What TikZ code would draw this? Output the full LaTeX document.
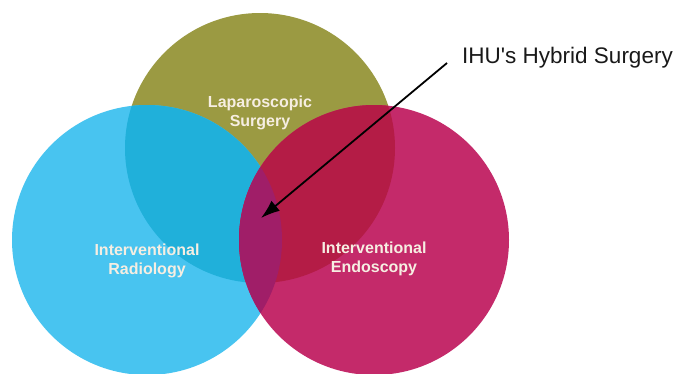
\documentclass[tikz,border=0pt]{standalone}
\usepackage{fontspec}
\setmainfont{Liberation Sans}
\usepackage{xcolor}
\usetikzlibrary{positioning,calc,arrows.meta}

\definecolor{lapcol}{HTML}{9B9A42}
\definecolor{radcol}{HTML}{48C4F0}
\definecolor{endcol}{HTML}{C42A6A}
\definecolor{radlapcol}{HTML}{20B0DA}
\definecolor{endlapcol}{HTML}{B41C46}
\definecolor{radendcol}{HTML}{A01E68}
\definecolor{labelcol}{HTML}{F6EEE2}

\begin{document}
\begin{tikzpicture}[
  x=1pt, y=-1pt,
  field/.style={align=center, text=labelcol, font=\bfseries\fontsize{16}{19}\selectfont},
  callout/.style={font=\fontsize{22.5}{26}\selectfont, text=black!90, inner sep=0pt},
]
\useasboundingbox (0,0) rectangle (680,373);

% ---------- Circle centres ----------
\coordinate (lap) at (260,148);
\coordinate (rad) at (147,240);
\coordinate (endo) at (374,240);
\def\rr{135pt}

% ---------- Circles and overlaps ----------
\fill[lapcol] (lap) circle[radius=\rr];
\fill[radcol] (rad) circle[radius=\rr];
\begin{scope}
  \clip (rad) circle[radius=\rr];
  \fill[radlapcol] (lap) circle[radius=\rr];
\end{scope}
\fill[endcol] (endo) circle[radius=\rr];
\begin{scope}
  \clip (endo) circle[radius=\rr];
  \fill[endlapcol] (lap) circle[radius=\rr];
  \fill[radendcol] (rad) circle[radius=\rr];
\end{scope}

% ---------- Labels ----------
\node[field] (laptext) at (260,113) {Laparoscopic\\Surgery};
\node[field] (radtext) at (147,261) {Interventional\\Radiology};
\node[field] (endtext) at (374,259) {Interventional\\Endoscopy};

\node[callout, anchor=west] (hybrid) at (462,58) {IHU\textquotesingle s Hybrid Surgery};
\coordinate (core) at (261,218);

% ---------- Arrow ----------
\draw[-{Latex[length=19pt,width=13pt]}, line width=1.8pt] ([xshift=-15pt,yshift=-5pt]hybrid.west) -- (core);

\end{tikzpicture}
\end{document}
